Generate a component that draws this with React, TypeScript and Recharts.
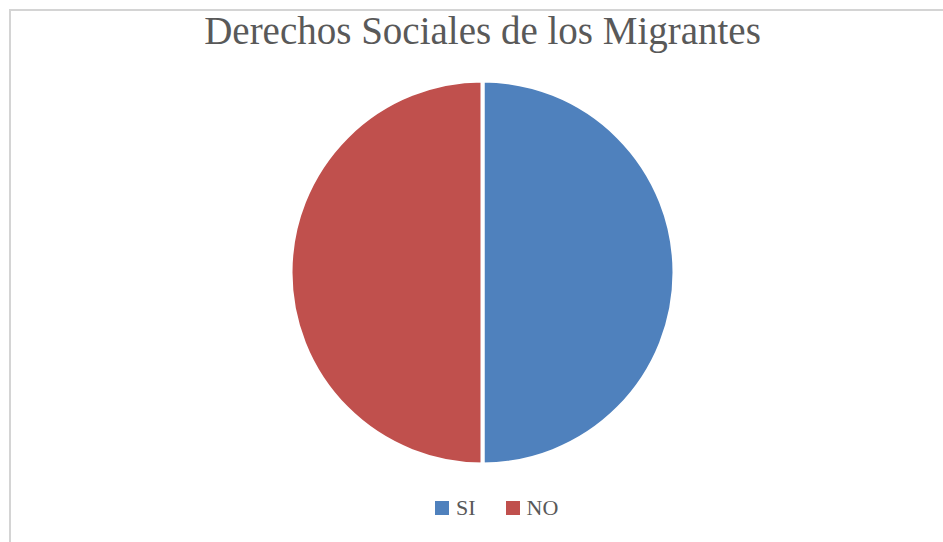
import { PieChart, Pie, Cell, Legend } from "recharts";

const categories = ["SI", "NO"];
const values = [50, 50];
const COLORS = ["#4F81BD", "#C0504D"];

const data = categories.map((name, i) => ({ name, value: values[i] }));

const FONT = '"Liberation Serif", "DejaVu Serif", serif';

// legend drawn in the data order (SI, NO) like the original
const renderLegend = () => (
  <div style={{ display: "flex", alignItems: "center", lineHeight: "22px" }}>
    {categories.map((c, i) => (
      <div key={c} style={{ display: "flex", alignItems: "center", marginRight: 30 }}>
        <span
          style={{
            display: "inline-block",
            width: 14,
            height: 14,
            background: COLORS[i],
            marginRight: 7,
          }}
        />
        <span style={{ color: "#595959", fontFamily: FONT, fontSize: 22 }}>{c}</span>
      </div>
    ))}
  </div>
);

export default function App() {
  return (
    <div
      style={{
        position: "absolute",
        left: 0,
        top: 0,
        width: 943,
        height: 542,
        background: "#fff",
        overflow: "hidden",
      }}
    >
      <div
        style={{
          position: "absolute",
          left: 9,
          top: 9,
          width: 960,
          height: 560,
          borderTop: "2px solid #d4d4d4",
          borderLeft: "2px solid #d4d4d4",
        }}
      />
      <div
        style={{
          position: "absolute",
          left: 0,
          top: 8,
          width: 965,
          textAlign: "center",
          fontFamily: FONT,
          fontSize: 39,
          color: "#595959",
        }}
      >
        Derechos Sociales de los Migrantes
      </div>
      <PieChart
        width={965}
        height={542}
        margin={{ top: 0, right: 0, bottom: 0, left: 0 }}
        style={{ position: "absolute", left: 0, top: 0 }}
      >
        <Pie
          data={data}
          dataKey="value"
          nameKey="name"
          cx={482.5}
          cy={272.5}
          outerRadius={192}
          startAngle={90}
          endAngle={-270}
          stroke="#ffffff"
          strokeWidth={4}
          isAnimationActive={false}
        >
          {data.map((_, i) => (
            <Cell key={i} fill={COLORS[i % COLORS.length]} />
          ))}
        </Pie>
        <Legend
          content={renderLegend}
          wrapperStyle={{ left: 435, top: 497, width: 200 }}
        />
      </PieChart>
    </div>
  );
}
